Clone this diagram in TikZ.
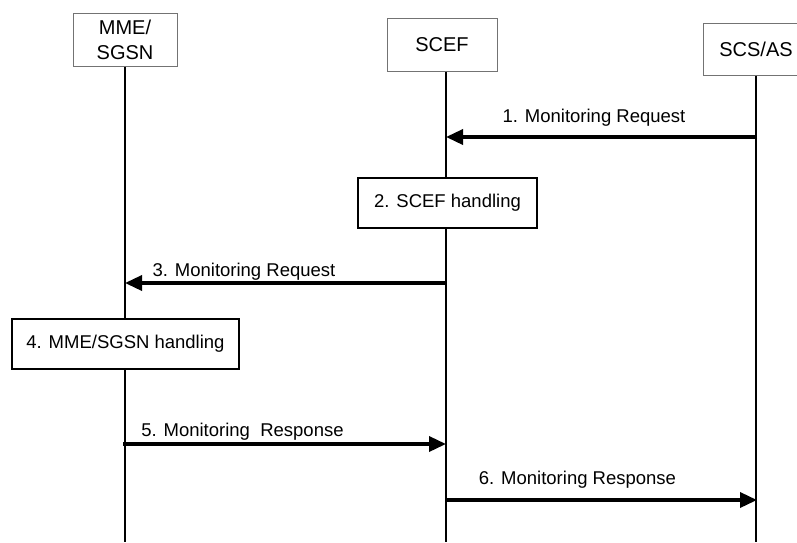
\documentclass[tikz,border=0pt]{standalone}
\usepackage{fontspec}
\setmainfont{Liberation Sans}
\usetikzlibrary{arrows.meta}
\begin{document}
\begin{tikzpicture}[x=1pt,y=-1pt,
  hdr/.style={draw=black!55, line width=1pt, fill=white, inner sep=0pt, align=center, font=\fontsize{20}{25}\selectfont},
  proc/.style={draw=black, line width=1.6pt, fill=white, inner sep=0pt, font=\fontsize{18.5}{22}\selectfont},
  life/.style={line width=1.4pt},
  msg/.style={line width=3.5pt, -{Triangle[length=17pt,width=15pt]}},
  lbl/.style={inner sep=0pt, anchor=base, font=\fontsize{18.5}{22}\selectfont}]
\useasboundingbox (0,0) rectangle (797,542);
% lifeline ends
\coordinate (mmeB) at (125,542);
\coordinate (scefB) at (446,542);
\coordinate (scsB) at (756,542);
% headers
\node[hdr, minimum width=104pt, minimum height=53pt] (mme) at (125,39.5) {MME/\\SGSN};
\node[hdr, minimum width=110pt, minimum height=53pt] (scef) at (442,44.5) {SCEF};
\node[hdr, minimum width=106pt, minimum height=52pt] (scs) at (756,49) {SCS/AS};
% lifelines
\draw[life] (mme.south) -- (mmeB);
\draw[life] (scef.south -| scefB) -- (scefB);
\draw[life] (scs.south) -- (scsB);
% processing boxes
\node[proc, minimum width=179pt, minimum height=50pt] (scefh) at (447.5,203) {2. SCEF handling};
\node[proc, minimum width=227pt, minimum height=50pt] (mmeh) at (125.5,344) {4. MME/SGSN handling};
% message end points
\coordinate (m1a) at (757,137);
\coordinate (m1b) at (446,137);
\coordinate (m3a) at (446,283);
\coordinate (m3b) at (125,283);
\coordinate (m5a) at (123,444);
\coordinate (m5b) at (446,444);
\coordinate (m6a) at (446,500);
\coordinate (m6b) at (757,500);
% messages
\draw[msg] (m1a) -- (m1b);
\draw[msg] (m3a) -- (m3b);
\draw[msg] (m5a) -- (m5b);
\draw[msg] (m6a) -- (m6b);
% labels
\node[lbl] (l1) at (594,122) {1. Monitoring Request};
\node[lbl] (l3) at (244,276) {3. Monitoring Request};
\node[lbl] (l5) at (242.5,436) {5. Monitoring\ \ Response};
\node[lbl] (l6) at (577.5,484) {6. Monitoring Response};
\end{tikzpicture}
\end{document}
